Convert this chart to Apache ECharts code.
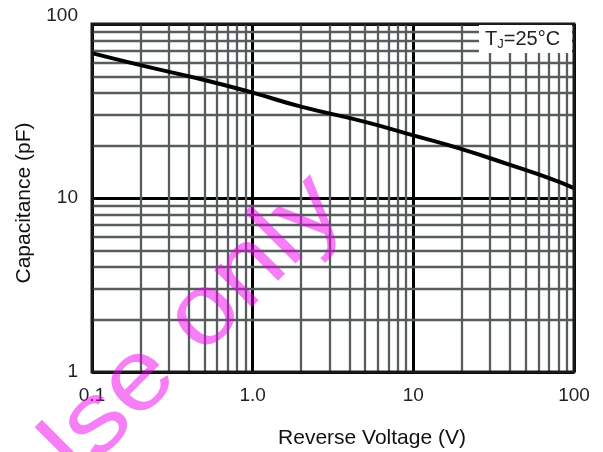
<!DOCTYPE html>
<html>
<head>
<meta charset="utf-8">
<script src="https://cdn.jsdelivr.net/npm/echarts@6/dist/echarts.min.js"></script>
<style>html,body{margin:0;padding:0;background:#fff}#c{width:603px;height:452px}</style>
</head>
<body>
<div id="c"></div>
<script>
// Data
var voltage = [0.1, 0.2, 0.5, 1, 2, 5, 10, 20, 40, 70, 100];
var capacitance = [68, 58, 47.7, 40.3, 33.5, 27.4, 22.9, 19.1, 15.5, 13.0, 11.4];
var xTickLabels = ['0.1', '1.0', '10', '100'];
var yTickLabels = ['1', '10', '100'];
var xMinorGrid = [0.2,0.3,0.4,0.5,0.6,0.7,0.8,0.9, 2,3,4,5,6,7,8,9, 20,30,40,50,60,70,80,90];
var yMinorGrid = [2,3,4,5,6,7,8,9, 20,30,40,50,60,70,80,90];

var chart = echarts.init(document.getElementById('c'), null, {renderer: 'canvas'});
var font = 'Liberation Sans, Arial, sans-serif';
var minorColor = '#575c5e';

var minorLines = [];
xMinorGrid.forEach(function (v) { minorLines.push({xAxis: v}); });
yMinorGrid.forEach(function (v) { minorLines.push({yAxis: v}); });

chart.setOption({
  animation: false,
  backgroundColor: '#fff',
  grid: {
    left: 92, top: 24, width: 482, height: 348,
    show: true, borderColor: '#1a1a1a', borderWidth: 3,
    backgroundColor: 'transparent', z: 10
  },
  xAxis: {
    type: 'log', logBase: 10, min: 0.1, max: 100, interval: 1,
    axisLine: {show: false}, axisTick: {show: false},
    splitLine: {show: true, lineStyle: {color: '#000', width: 3}},
    axisLabel: {
      margin: 14, color: '#222', fontSize: 19, fontFamily: font,
      formatter: function (v, i) { return xTickLabels[i]; }
    }
  },
  yAxis: {
    type: 'log', logBase: 10, min: 1, max: 100, interval: 1,
    axisLine: {show: false}, axisTick: {show: false},
    splitLine: {show: true, lineStyle: {color: '#000', width: 3}},
    axisLabel: {
      margin: 14, color: '#222', fontSize: 19, fontFamily: font,
      formatter: function (v, i) { return i === 2 ? '{t|' + yTickLabels[i] + '}' : yTickLabels[i]; },
      rich: {t: {fontSize: 19, fontFamily: font, color: '#222', padding: [0, 0, 16, 0]}}
    }
  },
  series: [
    {
      type: 'line', data: [], silent: true, z: 1,
      markLine: {
        silent: true, symbol: ['none', 'none'], label: {show: false},
        lineStyle: {color: minorColor, width: 2.3, type: 'solid'},
        emphasis: {disabled: true},
        data: minorLines
      }
    },
    {
      type: 'line', smooth: true, showSymbol: false, z: 5,
      lineStyle: {color: '#000', width: 4},
      data: voltage.map(function (v, i) { return [v, capacitance[i]]; })
    }
  ],
  graphic: [
    {type: 'rect', left: 479, top: 25, z: 20, shape: {width: 93, height: 28}, style: {fill: '#fff'}},
    {type: 'text', left: 485, top: 29, z: 21, style: {
      text: '{a|T}{b|J}{a|=25°C}', font: '20px ' + font,
      rich: {a: {fontSize: 20, fontFamily: font, fill: '#222', color: '#222'},
             b: {fontSize: 13, fontFamily: font, fill: '#222', color: '#222', padding: [10, 0, 0, 0]}}
    }},
    {type: 'text', x: 372, y: 438, z: 21, style: {
      text: 'Reverse Voltage (V)', font: '21px ' + font, fill: '#111', align: 'center', verticalAlign: 'middle'
    }},
    {type: 'text', x: 24, y: 203, rotation: Math.PI / 2, z: 21, style: {
      text: 'Capacitance (pF)', font: '21px ' + font, fill: '#111', align: 'center', verticalAlign: 'middle'
    }},
    {type: 'text', x: 174, y: 346, rotation: 45 * Math.PI / 180, scaleX: 1.12, scaleY: 1, z: 30, style: {
      text: 'Use only', font: '100px ' + font, fill: 'rgba(238,0,238,0.5)', align: 'center', verticalAlign: 'middle'
    }}
  ]
});
</script>
</body>
</html>
